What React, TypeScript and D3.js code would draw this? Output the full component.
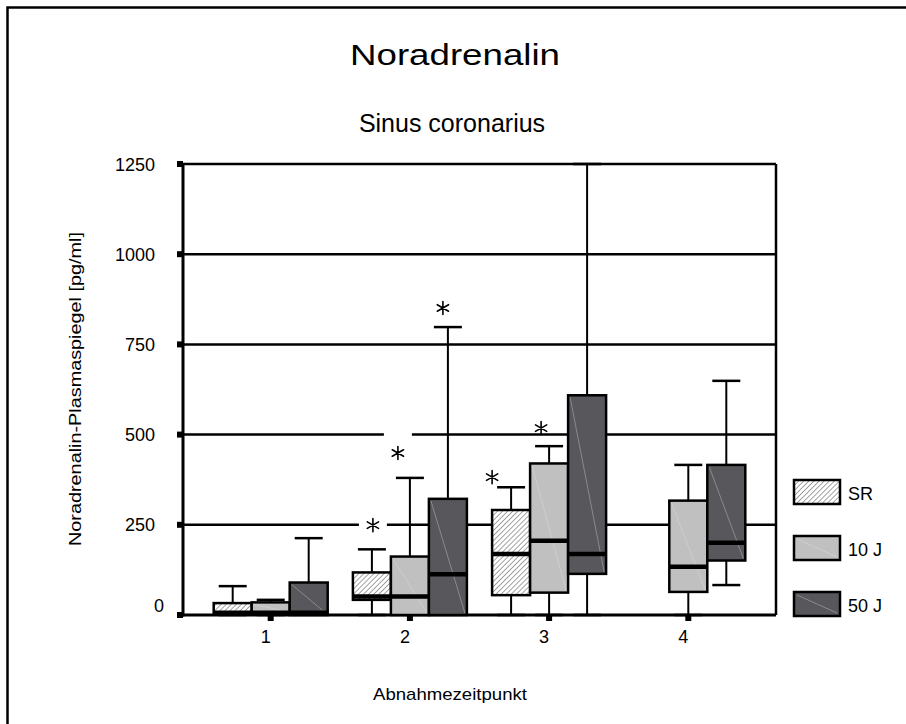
import React from 'react';
import * as d3 from 'd3';

const groups = ['1', '2', '3', '4'];
const seriesNames = ['SR', '10 J', '50 J'];
const yTicks = [0, 250, 500, 750, 1000, 1250];

// [min, q1, median, q3, max] per Abnahmezeitpunkt
const srStats: (number[] | null)[] = [[0, 3, 6, 33, 80], [0, 42, 51, 118, 182], [0, 55, 169, 291, 354], null];
const tenJStats: (number[] | null)[] = [[0, 3, 6, 35, 42], [0, 0, 51, 162, 380], [0, 62, 206, 420, 468], [0, 64, 134, 317, 416]];
const fiftyJStats: (number[] | null)[] = [[0, 0, 6, 90, 213], [0, 0, 113, 322, 798], [0, 114, 169, 609, 1250], [83, 151, 200, 416, 649]];

// significance stars: group, series index, value, horizontal nudge, white gap behind
const stars = [
  { group: '2', s: 0, value: 249, dx: 1, knockout: true },
  { group: '2', s: 1, value: 449, dx: -12, knockout: true },
  { group: '2', s: 2, value: 851, dx: -5, knockout: true },
  { group: '3', s: 0, value: 382, dx: -19, knockout: true },
  { group: '3', s: 1, value: 518, dx: -8, knockout: false },
];

const allStats = [srStats, tenJStats, fiftyJStats];
const fills = ['url(#hatch)', '#c0c0c0', '#58585c'];
const FONT = '"Liberation Sans", Arial, sans-serif';

// six-armed asterisk
const starPath = (r: number) =>
  [90, 30, 150].map(a => {
    const dx = r * Math.cos((a * Math.PI) / 180);
    const dy = r * Math.sin((a * Math.PI) / 180);
    return `M${-dx},${-dy}L${dx},${dy}`;
  }).join('');

export default function App() {
  const left = 183, right = 776, top = 164, bottom = 615;
  const boxW = 38, capW = 28;

  const x = d3.scalePoint<string>().domain(groups).range([left, right]).padding(0.63);
  const y = d3.scaleLinear().domain([0, 1250]).range([bottom, top]);
  const cx = (g: string, s: number) => (x(g) ?? 0) + (s - 1) * boxW;

  return (
    <svg width={906} height={724} style={{ position: 'absolute', left: 0, top: 0, background: '#fff' }}>
      <defs>
        <pattern id="hatch" patternUnits="userSpaceOnUse" width={3.6} height={3.6} patternTransform="rotate(45)">
          <rect width={3.6} height={3.6} fill="#fff" />
          <line x1={0} y1={0} x2={0} y2={3.6} stroke="#333" strokeWidth={0.9} />
        </pattern>
      </defs>

      {/* outer frame */}
      <path d="M7.5,724 V7.5 H906" fill="none" stroke="#000" strokeWidth={2.5} />

      <text x={455} y={65} fontFamily={FONT} fontSize={29} textAnchor="middle" textLength={210} lengthAdjust="spacingAndGlyphs">Noradrenalin</text>
      <text x={452} y={132} fontFamily={FONT} fontSize={25} textAnchor="middle">Sinus coronarius</text>

      {/* gridlines */}
      {yTicks.map(t => (
        <line key={t} x1={left} x2={right} y1={y(t)} y2={y(t)} stroke="#000" strokeWidth={t === 0 ? 3 : 2.5} />
      ))}
      <line x1={right} x2={right} y1={top} y2={bottom} stroke="#000" strokeWidth={2.5} />

      {/* white gaps behind stars */}
      {stars.filter(d => d.knockout).map((d, i) => (
        <rect key={i} x={cx(d.group, d.s) + d.dx - 14} y={y(d.value) - 20} width={28} height={38} fill="#fff" />
      ))}

      {/* boxes */}
      {allStats.map((stats, s) => stats.map((st, gi) => {
        if (!st) return null;
        const [mn, q1, med, q3, mx] = st;
        const c = cx(groups[gi], s);
        const x0 = c - boxW / 2;
        return (
          <g key={`${s}-${gi}`}>
            {mx > q3 && <line x1={c} x2={c} y1={y(q3)} y2={y(mx)} stroke="#000" strokeWidth={2} />}
            {mx > q3 && <line x1={c - capW / 2} x2={c + capW / 2} y1={y(mx)} y2={y(mx)} stroke="#000" strokeWidth={2.5} />}
            {mn < q1 && <line x1={c} x2={c} y1={y(q1)} y2={y(mn)} stroke="#000" strokeWidth={2} />}
            {mn < q1 && <line x1={c - capW / 2} x2={c + capW / 2} y1={y(mn)} y2={y(mn)} stroke="#000" strokeWidth={2.5} />}
            <rect x={x0} y={y(q3)} width={boxW} height={y(q1) - y(q3)} fill={fills[s]} stroke="#000" strokeWidth={2.5} />
            {s > 0 && (
              <line x1={x0 + 2} y1={y(q3) + 2} x2={x0 + boxW - 2} y2={y(q1) - 2} stroke="#e6e6e6" strokeWidth={0.6} opacity={0.6} />
            )}
            <line x1={x0} x2={x0 + boxW} y1={y(med)} y2={y(med)} stroke="#000" strokeWidth={4.5} />
          </g>
        );
      }))}

      {/* axes */}
      <line x1={left} x2={left} y1={top} y2={bottom + 1.5} stroke="#000" strokeWidth={3} />
      {yTicks.map(t => (
        <g key={t}>
          <rect x={left - 6} y={y(t) - 3} width={6} height={6} fill="#000" />
          <text x={t === 0 ? 164 : 155} y={t === 0 ? y(t) - 3 : y(t) + 6.5} fontFamily={FONT} fontSize={18} textAnchor="end">{t}</text>
        </g>
      ))}
      {groups.map(g => (
        <g key={g}>
          <rect x={(x(g) ?? 0) - 3} y={bottom + 1} width={6} height={5} fill="#000" />
          <text x={(x(g) ?? 0) - 5} y={643} fontFamily={FONT} fontSize={18} textAnchor="middle">{g}</text>
        </g>
      ))}

      {/* stars */}
      {stars.map((d, i) => (
        <path key={i} transform={`translate(${cx(d.group, d.s) + d.dx},${y(d.value)})`} d={starPath(6.5)}
          stroke="#000" strokeWidth={1.6} strokeLinecap="round" fill="none" />
      ))}

      {/* legend */}
      {seriesNames.map((n, i) => (
        <g key={n} transform={`translate(794,${480 + i * 56})`}>
          <rect width={46} height={24} fill={fills[i]} stroke="#000" strokeWidth={2.5} />
          {i > 0 && <line x1={3} y1={3} x2={43} y2={21} stroke="#e6e6e6" strokeWidth={0.6} opacity={0.6} />}
          <text x={54} y={20} fontFamily={FONT} fontSize={18}>{n}</text>
        </g>
      ))}

      <text transform="translate(81,389) rotate(-90)" fontFamily={FONT} fontSize={17} textAnchor="middle" textLength={314} lengthAdjust="spacingAndGlyphs">Noradrenalin-Plasmaspiegel [pg/ml]</text>
      <text x={450} y={700} fontFamily={FONT} fontSize={17} textAnchor="middle" textLength={154} lengthAdjust="spacingAndGlyphs">Abnahmezeitpunkt</text>
    </svg>
  );
}
